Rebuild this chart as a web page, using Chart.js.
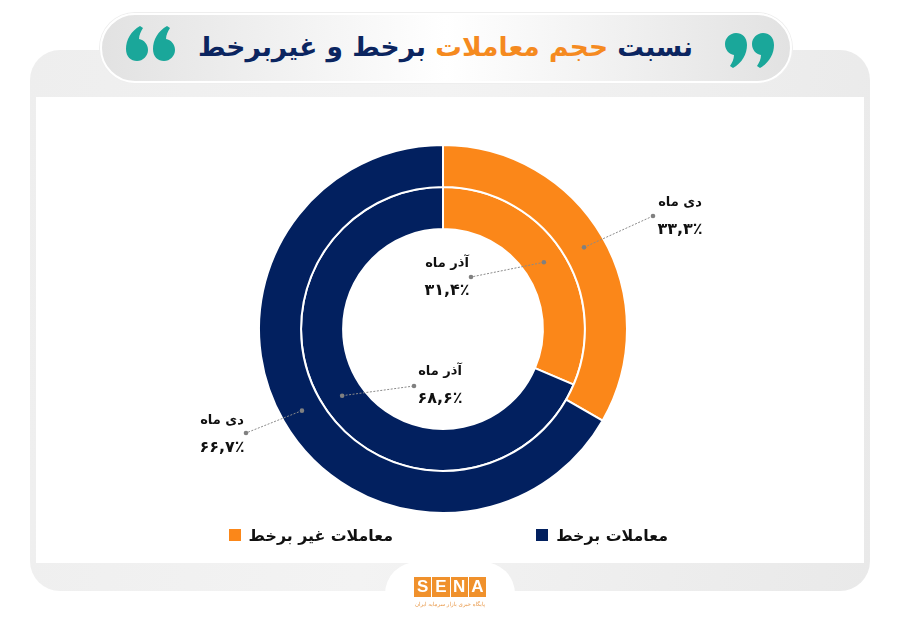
<!DOCTYPE html>
<html lang="fa">
<head>
<meta charset="utf-8">
<title>نسبت حجم معاملات برخط و غیربرخط</title>
<script src="https://cdn.jsdelivr.net/npm/chart.js@4"></script>
<style>
html, body { margin: 0; padding: 0; background: #fff; }
#page { position: relative; width: 900px; height: 623px; overflow: hidden; font-family: "DejaVu Sans", sans-serif; }
#panel { position: absolute; left: 30px; top: 50px; width: 840px; height: 541px; border-radius: 30px; background: linear-gradient(100deg, #eeeeee, #f3f3f3 45%, #e9e9e9); }
#inner { position: absolute; left: 36px; top: 97px; width: 828px; height: 466px; background: #fff; }
#bump { position: absolute; left: 385px; top: 562px; width: 130px; height: 61px; background: #fff; border-radius: 32px 32px 0 0; }
#pill { position: absolute; left: 100px; top: 13px; width: 688px; height: 66px; border: 2px solid #fff; border-radius: 36px; background: linear-gradient(90deg, #e2e2e2, #ffffff 50%, #e2e2e2); box-shadow: 0 0 0 1px #eee; }
#title { position: absolute; left: 199px; top: 25px; width: 494px; direction: rtl; text-align: center; font-weight: bold; font-size: 26.5px; line-height: 44px; color: #0b2560; white-space: nowrap; }
#title span { color: #f58a1f; }
.quote { position: absolute; }
canvas { position: absolute; left: 0; top: 0; }
.callout { position: absolute; width: 100px; margin-left: -50px; text-align: center; color: #111; font-size: 13px; font-weight: bold; line-height: 27px; direction: rtl; }
.callout b { display: block; font-size: 16px; }
.legend { position: absolute; top: 523px; font-weight: bold; font-size: 15.8px; line-height: 26px; color: #111; direction: rtl; white-space: nowrap; }
.legend i { display: inline-block; width: 12px; height: 12px; margin-right: 8px; }
#logo { position: absolute; left: 414px; top: 577px; width: 72px; height: 20px; display: flex; gap: 1px; }
#logo span { flex: 1; background: #f0912c; color: #fff; font: bold 17px/20px "Liberation Sans", sans-serif; text-align: center; }
#logoSub { position: absolute; left: 400px; top: 600px; width: 100px; text-align: center; direction: rtl; font-size: 5.5px; line-height: 8px; color: #e8994a; white-space: nowrap; }
</style>
</head>
<body>
<div id="page">
  <div id="panel"></div>
  <div id="inner"></div>
  <div id="bump"></div>
  <div id="pill"></div>
  <svg class="quote" style="left:126px;top:26px" width="50" height="36" viewBox="0 0 50 36">
    <path fill="#1aa79a" d="M14 0 C5 5 0 14 0 23 C0 31 5 35 11 35 C17 35 22 30 22 24 C22 18 18 14 13 13 C13 9 15 5 17 2 Z M41 0 C32 5 27 14 27 23 C27 31 32 35 38 35 C44 35 49 30 49 24 C49 18 45 14 40 13 C40 9 42 5 44 2 Z"/>
  </svg>
  <svg class="quote" style="left:724px;top:32px;transform:rotate(180deg)" width="50" height="36" viewBox="0 0 50 36">
    <path fill="#1aa79a" d="M14 0 C5 5 0 14 0 23 C0 31 5 35 11 35 C17 35 22 30 22 24 C22 18 18 14 13 13 C13 9 15 5 17 2 Z M41 0 C32 5 27 14 27 23 C27 31 32 35 38 35 C44 35 49 30 49 24 C49 18 45 14 40 13 C40 9 42 5 44 2 Z"/>
  </svg>
  <div id="title">نسبت <span>حجم معاملات</span> برخط و غیربرخط</div>
  <canvas id="myChart" width="900" height="623"></canvas>
  <div id="callouts"></div>
  <div class="legend" style="right:232px">معاملات برخط<i style="background:#02205f"></i></div>
  <div class="legend" style="right:507px">معاملات غیر برخط<i style="background:#fb8719"></i></div>
  <div id="logo"><span>S</span><span>E</span><span>N</span><span>A</span></div>
  <div id="logoSub">پایگاه خبری بازار سرمایه ایران</div>
</div>
<script>
const categories = ['معاملات غیر برخط', 'معاملات برخط'];
const deyValues = [33.3, 66.7];
const azarValues = [31.4, 68.6];
const deyLabels = ['۳۳,۳٪', '۶۶,۷٪'];
const azarLabels = ['۳۱,۴٪', '۶۸,۶٪'];
const months = ['دی ماه', 'آذر ماه'];
const colors = ['#fb8719', '#02205f'];

// where each callout ends: [dataset, slice, line end x, y, text x, y]
const callouts = [
    [0, 0, 653, 216, 680, 188],
    [1, 0, 471, 277, 447, 249],
    [1, 1, 414, 386, 440, 357],
    [0, 1, 246, 433, 222, 406]
];

const calloutLines = {
    id: 'calloutLines',
    afterDatasetsDraw(chart) {
        const ctx = chart.ctx;
        callouts.forEach(function (c) {
            const p = chart.getDatasetMeta(c[0]).data[c[1]].getCenterPoint();
            ctx.save();
            ctx.strokeStyle = '#8a8a8a';
            ctx.fillStyle = '#808080';
            ctx.lineWidth = 1;
            ctx.setLineDash([2, 1.5]);
            ctx.beginPath();
            ctx.moveTo(p.x, p.y);
            ctx.lineTo(c[2], c[3]);
            ctx.stroke();
            ctx.setLineDash([]);
            [[p.x, p.y], [c[2], c[3]]].forEach(function (d) {
                ctx.beginPath();
                ctx.arc(d[0], d[1], 2.3, 0, Math.PI * 2);
                ctx.fill();
            });
            ctx.restore();
        });
    }
};

const myChart = new Chart(document.getElementById('myChart'), {
    type: 'doughnut',
    data: {
        labels: categories,
        datasets: [
            { label: months[0], data: deyValues, backgroundColor: colors, borderColor: '#fff', borderWidth: 2 },
            { label: months[1], data: azarValues, backgroundColor: colors, borderColor: '#fff', borderWidth: 2 }
        ]
    },
    options: {
        responsive: false,
        animation: false,
        cutout: '54.3%',
        layout: { padding: { left: 258, right: 272, top: 144, bottom: 109 } },
        plugins: { legend: { display: false }, tooltip: { enabled: false } }
    },
    plugins: [calloutLines]
});

let text = '';
callouts.forEach(function (c) {
    const value = c[0] === 0 ? deyLabels[c[1]] : azarLabels[c[1]];
    text += `<div class="callout" style="left:${c[4]}px;top:${c[5]}px">${months[c[0]]}<b>${value}</b></div>`;
});
document.getElementById('callouts').innerHTML = text;
</script>
</body>
</html>
